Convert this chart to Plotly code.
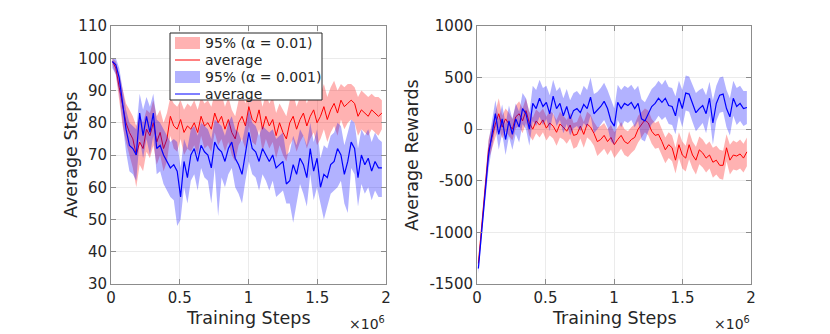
import numpy as np
import plotly.graph_objects as go

# training steps (in units of 1e6)
steps = np.linspace(0.01, 1.97, 80)

# left panel: average steps
steps_red_mean = [
    99, 97, 91, 85, 80, 77, 75, 70, 74, 72,
    78, 76, 80, 74, 77, 72, 75, 82, 79, 78,
    81, 77, 79, 78, 80, 77, 82, 79, 80, 78,
    83, 80, 82, 78, 81, 77, 75, 80, 82, 79,
    85, 81, 80, 84, 78, 82, 79, 81, 76, 80,
    77, 75, 80, 82, 78, 81, 83, 79, 82, 84,
    80, 82, 85, 81, 84, 86, 83, 87, 85, 86,
    87, 86, 82, 84, 83, 82, 84, 83, 82, 83,
]
steps_red_hi = [
    100, 99, 95, 90, 86, 84, 82, 79, 82, 80,
    84, 83, 87, 82, 84, 80, 83, 88, 86, 85,
    87, 84, 86, 85, 87, 84, 88, 86, 87, 85,
    89, 87, 89, 85, 88, 84, 82, 87, 89, 86,
    91, 88, 87, 90, 85, 89, 86, 88, 83, 86,
    84, 82, 87, 89, 85, 88, 90, 86, 89, 91,
    87, 89, 92, 88, 91, 93, 90, 92, 91, 92,
    92, 91, 88, 90, 89, 88, 89, 88, 88, 87,
]
steps_red_lo = [
    98, 95, 87, 79, 74, 70, 66, 60, 67, 65,
    71, 69, 73, 67, 70, 65, 68, 76, 72, 71,
    75, 70, 72, 71, 73, 70, 76, 72, 73, 71,
    77, 73, 75, 71, 74, 70, 68, 73, 75, 72,
    79, 74, 73, 78, 71, 75, 72, 74, 69, 73,
    70, 68, 73, 75, 71, 74, 76, 72, 75, 77,
    73, 75, 78, 74, 77, 79, 76, 81, 78, 80,
    81, 80, 76, 78, 77, 76, 78, 77, 76, 78,
]
steps_blue_mean = [
    99, 98, 94, 86, 78, 73, 72, 70, 83, 76,
    82, 77, 83, 72, 73, 70, 68, 66, 67, 65,
    57, 68, 63, 70, 72, 68, 73, 71, 70, 66,
    74, 72, 71, 68, 72, 74, 69, 67, 64, 70,
    77, 72, 71, 68, 72, 70, 68, 70, 66, 67,
    68, 61, 62, 67, 64, 69, 67, 63, 72, 65,
    69, 60, 64, 63, 67, 68, 72, 70, 64, 68,
    74, 72, 63, 70, 67, 69, 65, 68, 66, 66,
]
steps_blue_hi = [
    100, 100, 97, 91, 84, 80, 79, 78, 89, 84,
    88, 85, 89, 81, 80, 78, 76, 74, 75, 74,
    66, 75, 72, 78, 79, 76, 80, 79, 78, 75,
    81, 80, 79, 76, 80, 82, 78, 77, 74, 79,
    84, 80, 79, 76, 79, 78, 77, 78, 75, 76,
    77, 70, 71, 76, 73, 78, 76, 73, 80, 74,
    78, 69, 73, 72, 76, 77, 80, 79, 73, 77,
    81, 80, 72, 78, 76, 78, 74, 77, 75, 74,
]
steps_blue_lo = [
    97, 95, 89, 80, 71, 65, 64, 62, 75, 69,
    75, 70, 76, 64, 65, 61, 59, 57, 56, 48,
    50, 60, 55, 62, 64, 59, 66, 63, 62, 55,
    66, 51, 63, 60, 64, 66, 60, 58, 55, 62,
    68, 64, 63, 59, 64, 62, 59, 62, 57, 58,
    59, 55, 55, 49, 55, 61, 58, 54, 64, 56,
    60, 55, 50, 54, 58, 59, 60, 62, 55, 52,
    66, 64, 54, 61, 58, 60, 56, 59, 57, 57,
]

# right panel: average rewards
rew_red_mean = [
    -1300, -950, -550, -200, -80, 50, 150, 20, 100, 50,
    0, 120, 150, 80, 180, 60, 0, 80, 40, 90,
    10, 60, 30, -30, 50, 20, -20, 40, -60, -50,
    30, -50, 50, 20, -40, -120, -100, -60, -120, -80,
    -150, -100, -60, -120, -140, -100, -80, 0, 50, 90,
    60, -20, -60, -50, -120, -200, -150, -180, -300, -150,
    -250, -280, -150, -250, -300, -200, -230, -280, -250, -320,
    -300, -350, -350, -180, -300, -250, -260, -240, -280, -220,
]
rew_red_hi = [
    -1250, -880, -460, -100, 30, 170, 300, 130, 200, 160,
    100, 230, 270, 200, 300, 170, 110, 190, 160, 200,
    120, 180, 150, 90, 170, 130, 90, 160, 60, 70,
    150, 70, 170, 140, 70, 20, 30, 60, 0, 40,
    -30, 20, 70, 0, -20, 20, 50, 130, 170, 200,
    180, 100, 60, 80, 0, -80, -30, -60, -180, -30,
    -120, -160, -20, -120, -170, -70, -100, -150, -120, -180,
    -160, -200, -210, -50, -150, -110, -130, -100, -140, -80,
]
rew_red_lo = [
    -1350, -1020, -640, -300, -190, -80, 20, -90, -20, -60,
    -110, 10, 30, -40, 60, -60, -110, -40, -80, -30,
    -110, -60, -90, -160, -80, -100, -140, -90, -190, -170,
    -90, -180, -80, -110, -160, -260, -230, -190, -250, -200,
    -280, -230, -190, -250, -270, -230, -200, -130, -80, -30,
    -60, -140, -190, -180, -250, -330, -280, -310, -430, -280,
    -380, -410, -290, -380, -440, -340, -370, -420, -380, -470,
    -440, -480, -490, -310, -440, -390, -400, -380, -420, -360,
]
rew_blue_mean = [
    -1350, -1000, -600, -250, -50, 150, -50, 100, -100, 80,
    -50, 100, 20, 200, 150, 0, 250, 200, 300, 220,
    260, 150, 320, 200, 250, 130, 220, 100, 180, 200,
    160, 240, 200, 310, 150, 180, 220, 270, 200, 80,
    30, 260, 200, 250, 230, 260, 200, 250, 100, 80,
    150, 220, 250, 300, 260, 300, 230, 220, 130, 300,
    200, 350, 340, 250, 160, 200, 230, 150, 300, 60,
    250, 330, 340, 200, 120, 300, 220, 250, 200, 210,
]
rew_blue_hi = [
    -1300, -920, -500, -120, 80, 280, 100, 240, 50, 230,
    100, 250, 170, 350, 300, 160, 420, 380, 480, 400,
    420, 330, 480, 370, 410, 300, 390, 280, 350, 370,
    330, 420, 380, 500, 340, 360, 400, 450, 380, 280,
    200, 430, 380, 420, 400, 430, 380, 420, 290, 260,
    320, 390, 420, 470, 430, 480, 410, 400, 320, 470,
    380, 520, 510, 430, 350, 380, 400, 330, 460, 280,
    420, 500, 510, 380, 300, 470, 400, 420, 370, 370,
]
rew_blue_lo = [
    -1400, -1080, -700, -380, -180, 20, -200, -40, -250, -70,
    -200, -50, -130, 50, 0, -160, 80, 30, 120, 40,
    100, -20, 160, 30, 90, -40, 50, -60, 10, 30,
    -20, 60, 20, 130, -40, 0, 40, 90, 20, -120,
    -150, 90, 20, 80, 60, 90, 20, 80, -100, -120,
    -20, 50, 80, 130, 90, 120, 50, 40, -50, 130,
    20, 180, 170, 70, -20, 20, 60, -40, 130, -150,
    80, 160, 170, 20, -60, 130, 40, 80, 30, 50,
]

legend_labels = ['95% (\u03b1 = 0.01)', 'average', '95% (\u03b1 = 0.001)', 'average']
x_tickvals = [0, 0.5, 1, 1.5, 2]
x_ticktext = ['0', '0.5', '1', '1.5', '2']
reward_tickvals = [-1500, -1000, -500, 0, 500, 1000]
reward_ticktext = ['-1500', '-1000', '-500', '0', '500', '1000']

RED_FILL = 'rgba(255,0,0,0.3)'
BLUE_FILL = 'rgba(0,0,255,0.3)'
FONT = 'DejaVu Sans, sans-serif'
TXT = '#262626'
AX = '#8c8c8c'
W, H = 830, 334


def px(x):
    return x / W


def py(y):
    return (H - y) / H


fig = go.Figure()
x_band = list(steps) + list(steps[::-1])


def add_panel(lo_r, hi_r, mean_r, lo_b, hi_b, mean_b, xa, ya):
    fig.add_trace(go.Scatter(
        x=x_band, y=list(hi_r) + list(lo_r[::-1]), fill='toself', fillcolor=RED_FILL,
        line=dict(width=0), mode='lines', showlegend=False, xaxis=xa, yaxis=ya, hoverinfo='skip'))
    fig.add_trace(go.Scatter(
        x=steps, y=mean_r, mode='lines', line=dict(color='red', width=1),
        showlegend=False, xaxis=xa, yaxis=ya))
    fig.add_trace(go.Scatter(
        x=x_band, y=list(hi_b) + list(lo_b[::-1]), fill='toself', fillcolor=BLUE_FILL,
        line=dict(width=0), mode='lines', showlegend=False, xaxis=xa, yaxis=ya, hoverinfo='skip'))
    fig.add_trace(go.Scatter(
        x=steps, y=mean_b, mode='lines', line=dict(color='blue', width=1.2),
        showlegend=False, xaxis=xa, yaxis=ya))


add_panel(steps_red_lo, steps_red_hi, steps_red_mean,
          steps_blue_lo, steps_blue_hi, steps_blue_mean, 'x', 'y')
add_panel(rew_red_lo, rew_red_hi, rew_red_mean,
          rew_blue_lo, rew_blue_hi, rew_blue_mean, 'x2', 'y2')

axis_style = dict(
    showline=True, mirror='ticks', linecolor=AX, linewidth=1,
    ticks='inside', ticklen=5, tickcolor=AX,
    showgrid=True, gridcolor='#ebebeb', gridwidth=1, zeroline=False,
    tickfont=dict(family=FONT, size=15, color=TXT),
    automargin=False,
)
xticks = dict(tickvals=x_tickvals, ticktext=x_ticktext, range=[0, 2])

fig.update_layout(
    width=W, height=H,
    margin=dict(l=0, r=0, t=0, b=0),
    paper_bgcolor='white', plot_bgcolor='white',
    font=dict(family=FONT, color=TXT),
    xaxis=dict(domain=[px(111), px(386)], anchor='y', **xticks, **axis_style),
    yaxis=dict(domain=[py(284), py(26)], anchor='x', range=[30, 110], dtick=10, **axis_style),
    xaxis2=dict(domain=[px(477), px(751)], anchor='y2', **xticks, **axis_style),
    yaxis2=dict(domain=[py(284), py(26)], anchor='x2', range=[-1500, 1000],
                tickvals=reward_tickvals, ticktext=reward_ticktext, **axis_style),
    showlegend=False,
)

# axis titles and exponent labels
title_font = dict(family=FONT, size=17.5, color=TXT)
for xc in (248, 614):
    fig.add_annotation(x=px(xc), y=py(318), xref='paper', yref='paper', text='Training Steps',
                       showarrow=False, font=title_font, xanchor='center', yanchor='middle')
for xc, label in ((71, 'Average Steps'), (412, 'Average Rewards')):
    fig.add_annotation(x=px(xc), y=py(155), xref='paper', yref='paper', text=label, textangle=-90,
                       showarrow=False, font=title_font, xanchor='center', yanchor='middle')
for xr in (387, 752):
    fig.add_annotation(x=px(xr), y=py(323), xref='paper', yref='paper', xanchor='right', yanchor='middle',
                       text='\u00d710<sup>6</sup>', showarrow=False,
                       font=dict(family=FONT, size=14, color=TXT))

# legend box drawn by hand (MATLAB style)
fig.add_shape(type='rect', xref='paper', yref='paper', x0=px(170), x1=px(322), y0=py(100), y1=py(33),
              fillcolor='white', line=dict(color=TXT, width=1), layer='above')
rows = [43, 60, 77, 94]
swatches = [('fill', RED_FILL), ('line', 'red'), ('fill', BLUE_FILL), ('line', 'blue')]
for yc, (kind, col), label in zip(rows, swatches, legend_labels):
    if kind == 'fill':
        fig.add_shape(type='rect', xref='paper', yref='paper', x0=px(175), x1=px(200),
                      y0=py(yc + 6), y1=py(yc - 6), fillcolor=col, line=dict(width=0), layer='above')
    else:
        fig.add_shape(type='line', xref='paper', yref='paper', x0=px(175), x1=px(200),
                      y0=py(yc), y1=py(yc), line=dict(color=col, width=1), layer='above')
    fig.add_annotation(x=px(203), y=py(yc), xref='paper', yref='paper', text=label, showarrow=False,
                       xanchor='left', yanchor='middle', font=dict(family=FONT, size=14, color=TXT))

fig.write_html("out.html", config={'displayModeBar': False},
               post_script="document.body.style.margin='0';")
